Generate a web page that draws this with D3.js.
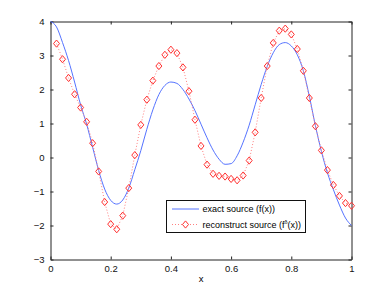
<!DOCTYPE html>
<html>
<head>
<meta charset="utf-8">
<script src="https://cdn.jsdelivr.net/npm/d3@7"></script>
<style>
  body { margin: 0; background: #fff; }
  svg text { font-family: "Liberation Sans", Arial, sans-serif; }
</style>
</head>
<body>
<div id="graph"></div>
<script>
// exact source f(x), read at steps of 0.02 from 0 to 1
var exact_x = d3.range(0, 51).map(function(i) { return +(i * 0.02).toFixed(2); });
var exact_y = [4.00, 3.84, 3.38, 2.85, 2.22, 1.55, 0.98, 0.30, -0.38, -0.93,
  -1.26, -1.37, -1.25, -0.90, -0.36, 0.20, 0.83, 1.40, 1.85, 2.12,
  2.22, 2.18, 2.00, 1.72, 1.38, 0.98, 0.58, 0.22, -0.05, -0.20,
  -0.18, 0.05, 0.45, 0.95, 1.55, 2.15, 2.68, 3.08, 3.32, 3.38,
  3.28, 3.02, 2.55, 1.80, 0.94, 0.18, -0.45, -0.95, -1.40, -1.78, -2.00];

// reconstruct source f^delta(x), markers from 0.02 to 1
var recon_x = d3.range(1, 51).map(function(i) { return +(i * 0.02).toFixed(2); });
var recon_y = [3.35, 2.89, 2.34, 1.86, 1.47, 1.05, 0.42, -0.41, -1.31, -1.96,
  -2.11, -1.71, -0.90, 0.07, 0.96, 1.70, 2.26, 2.69, 3.02, 3.17,
  3.07, 2.65, 1.95, 1.11, 0.34, -0.21, -0.48, -0.54, -0.56, -0.63,
  -0.67, -0.53, -0.09, 0.74, 1.75, 2.69, 3.37, 3.73, 3.79, 3.62,
  3.19, 2.55, 1.75, 0.92, 0.21, -0.37, -0.81, -1.13, -1.34, -1.42];

var x_ticks = [0, 0.2, 0.4, 0.6, 0.8, 1];
var y_ticks = [-3, -2, -1, 0, 1, 2, 3, 4];
var legend_labels = ["exact source (f(x))", "reconstruct source (f", "δ", "(x))"];

var W = 388, H = 292;
var svg = d3.select("#graph").append("svg")
  .attr("width", W).attr("height", H);

var xScale = d3.scaleLinear().domain([0, 1]).range([50.5, 351.5]);
var yScale = d3.scaleLinear().domain([-3, 4]).range([259.5, 21.5]);

// box axes, ticks pointing in
svg.append("g")
  .attr("transform", "translate(0," + yScale(-3) + ")")
  .call(d3.axisBottom(xScale).tickValues(x_ticks).tickSizeInner(-3).tickSizeOuter(0).tickPadding(6)
    .tickFormat(function(d) { return d; }));
svg.append("g")
  .attr("transform", "translate(0," + yScale(4) + ")")
  .call(d3.axisTop(xScale).tickValues(x_ticks).tickSizeInner(-3).tickSizeOuter(0).tickFormat(""));
svg.append("g")
  .attr("transform", "translate(" + xScale(0) + ",0)")
  .call(d3.axisLeft(yScale).tickValues(y_ticks).tickSizeInner(-3).tickSizeOuter(0).tickPadding(6)
    .tickFormat(function(d) { return d < 0 ? "\u2212" + Math.abs(d) : d; }));
svg.append("g")
  .attr("transform", "translate(" + xScale(1) + ",0)")
  .call(d3.axisRight(yScale).tickValues(y_ticks).tickSizeInner(-3).tickSizeOuter(0).tickFormat(""));

svg.selectAll(".domain").attr("stroke", "#222");
svg.selectAll(".tick line").attr("stroke", "#222");
svg.selectAll(".tick text").attr("font-size", 9.5).attr("fill", "#111");

svg.append("text")
  .attr("x", xScale(0.5)).attr("y", 282)
  .attr("text-anchor", "middle").attr("font-size", 9.5)
  .text("x");

// exact curve
var exactLine = d3.line()
  .x(function(d, i) { return xScale(exact_x[i]); })
  .y(function(d) { return yScale(d); })
  .curve(d3.curveMonotoneX);
svg.append("path")
  .datum(exact_y)
  .attr("d", exactLine)
  .attr("fill", "none")
  .attr("stroke", "#5573ff")
  .attr("stroke-width", 1);

// reconstructed, dotted line + diamonds
var reconLine = d3.line()
  .x(function(d, i) { return xScale(recon_x[i]); })
  .y(function(d) { return yScale(d); });
svg.append("path")
  .datum(recon_y)
  .attr("d", reconLine)
  .attr("fill", "none")
  .attr("stroke", "#ff8080")
  .attr("stroke-width", 1)
  .attr("stroke-dasharray", "1,2");

var diamond = "M0,-3.6L3,0L0,3.6L-3,0Z";
svg.selectAll(".pt")
  .data(recon_y)
  .enter().append("path")
  .attr("class", "pt")
  .attr("transform", function(d, i) { return "translate(" + xScale(recon_x[i]) + "," + yScale(d) + ")"; })
  .attr("d", diamond)
  .attr("fill", "none")
  .attr("stroke", "#ff3030")
  .attr("stroke-width", 1);

// legend
var lg = svg.append("g");
lg.append("rect")
  .attr("x", 166.5).attr("y", 200.5).attr("width", 139).attr("height", 32)
  .attr("fill", "#fff").attr("stroke", "#111").attr("stroke-width", 1);
lg.append("line")
  .attr("x1", 172).attr("x2", 199).attr("y1", 209).attr("y2", 209)
  .attr("stroke", "#5573ff");
lg.append("line")
  .attr("x1", 172).attr("x2", 199).attr("y1", 224.5).attr("y2", 224.5)
  .attr("stroke", "#ff8080").attr("stroke-dasharray", "1,2");
lg.append("path")
  .attr("transform", "translate(185.5,224.5)")
  .attr("d", diamond).attr("fill", "#fff").attr("stroke", "#ff3030");
lg.append("text")
  .attr("x", 202.5).attr("y", 212).attr("font-size", 9)
  .text(legend_labels[0]);
var t2 = lg.append("text")
  .attr("x", 202.5).attr("y", 228).attr("font-size", 9);
t2.append("tspan").text(legend_labels[1]);
t2.append("tspan").attr("dy", -4).attr("font-size", 5.5).text(legend_labels[2]);
t2.append("tspan").attr("dy", 4).text(legend_labels[3]);
</script>
</body>
</html>
